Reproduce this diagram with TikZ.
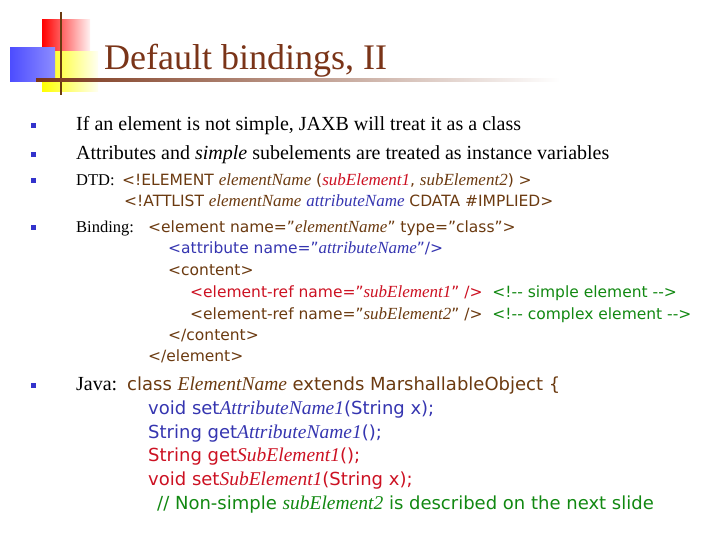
\documentclass[tikz,border=0pt]{standalone}
\usepackage{fontspec}
\setmainfont{Liberation Serif}
\setsansfont{DejaVu Sans}
\definecolor{brn}{HTML}{6B3A10}
\definecolor{ttl}{HTML}{7A3418}
\definecolor{blu}{HTML}{3535B0}
\definecolor{rd}{HTML}{CC1122}
\definecolor{grn}{HTML}{118811}
\definecolor{bul}{HTML}{3333CC}
\newcommand\ci[1]{{\rmfamily\itshape\fontsize{17}{18}\selectfont #1}}
\newcommand\cj[1]{{\rmfamily\itshape\fontsize{19.5}{20}\selectfont #1}}
\tikzset{
  body/.style={anchor=base west,inner sep=0pt,font=\fontsize{20}{21}\selectfont},
  code/.style={anchor=base west,inner sep=0pt,font=\sffamily\fontsize{15.5}{17}\selectfont},
  jcode/.style={anchor=base west,inner sep=0pt,font=\sffamily\fontsize{18}{20}\selectfont},
  bullet/.style={fill=bul,minimum size=5pt,inner sep=0pt}
}
\begin{document}
\begin{tikzpicture}[x=1pt,y=-1pt]
\useasboundingbox (0,0) rectangle (720,540);
% logo
\shade[left color=red,right color=red!5] (42,20) rectangle (90,52);
\shade[left color=yellow,right color=yellow!5] (42,52) rectangle (98,92);
\shade[left color=blue!70,right color=blue!45] (10,48) rectangle (55,82);
\draw[brn,line width=2.5pt] (61,12) -- (61,95);
\shade[left color=ttl,right color=white] (36,78.5) rectangle (560,81.5);
\node[anchor=base west,inner sep=0pt,text=ttl,font=\fontsize{36}{40}\selectfont] (title) at (104,70) {Default bindings, II};
% bullets
\foreach \n/\y in {b1/131,b2/160,b3/186,b4/233,b5/390}
  \node[bullet] (\n) at (33,\y-5) {};
\node[body] (l1) at (76,131) {If an element is not simple, JAXB will treat it as a class};
\node[body] (l2) at (76,160) {Attributes and \textit{simple} subelements are treated as instance variables};
\node[body,font=\fontsize{16.5}{18}\selectfont] (l3) at (76,186) {DTD:};
\node[code,text=brn] (c3) at (122,186) {<!ELEMENT \ci{elementName} (\textcolor{rd}{\ci{subElement1}}, \ci{subElement2}) >};
\node[code,text=brn] (c4) at (124,207) {<!ATTLIST \ci{elementName} \textcolor{blu}{\ci{attributeName}} CDATA \#IMPLIED>};
\node[body,font=\fontsize{16.5}{18}\selectfont] (l4) at (76,233) {Binding:};
\node[code,text=brn] (c5) at (148,233) {<element name="\ci{elementName}" type="class">};
\node[code,text=blu] (c6) at (168,253) {<attribute name="\ci{attributeName}"/>};
\node[code,text=brn] (c7) at (168,275) {<content>};
\node[code,text=rd] (c8) at (190,297) {<element-ref name="\ci{subElement1}" />\ \ \textcolor{grn}{<!-{}- simple element -{}->}};
\node[code,text=brn] (c9) at (190,319) {<element-ref name="\ci{subElement2}" />\ \ \textcolor{grn}{<!-{}- complex element -{}->}};
\node[code,text=brn] (c10) at (168,340) {</content>};
\node[code,text=brn] (c11) at (148,361) {</element>};
\node[body] (l5) at (76,390) {Java:};
\node[jcode,text=brn] (j1) at (127,390) {class \cj{ElementName} extends MarshallableObject \{};
\node[jcode,text=blu] (j2) at (148,414) {void set\cj{AttributeName1}(String x);};
\node[jcode,text=blu] (j3) at (148,438) {String get\cj{AttributeName1}();};
\node[jcode,text=rd] (j4) at (148,461) {String get\cj{SubElement1}();};
\node[jcode,text=rd] (j5) at (148,485) {void set\cj{SubElement1}(String x);};
\node[jcode,text=grn] (j6) at (157,509) {// Non-simple \cj{subElement2} is described on the next slide};
\end{tikzpicture}
\end{document}
